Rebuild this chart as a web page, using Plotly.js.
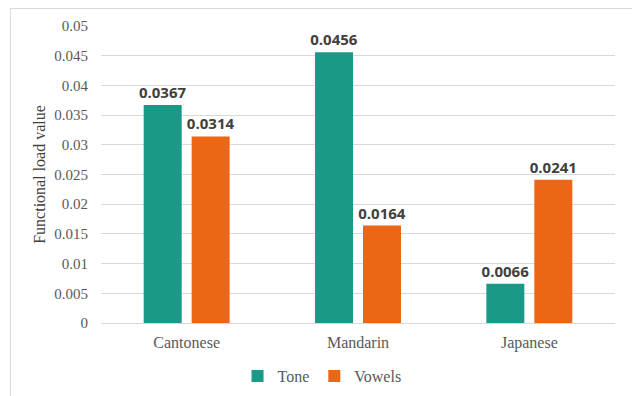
<!DOCTYPE html>
<html><head><meta charset="utf-8">
<script src="https://cdn.plot.ly/plotly-3.0.1.min.js"></script>
<style>
html,body{margin:0;padding:0;background:#fff;}
#chart{position:absolute;left:0;top:0;width:632px;height:396px;}
#frame{position:absolute;left:10px;top:8px;width:640px;height:400px;border-left:1px solid #d9d9d9;border-top:1px solid #d9d9d9;pointer-events:none;}
</style></head>
<body>
<div id="chart"></div>
<div id="frame"></div>
<script>
const categories = ["Cantonese", "Mandarin", "Japanese"];
const toneValues = [0.0367, 0.0456, 0.0066];
const vowelValues = [0.0314, 0.0164, 0.0241];
const yTickVals = [0, 0.005, 0.01, 0.015, 0.02, 0.025, 0.03, 0.035, 0.04, 0.045, 0.05];
const yTickText = ["0", "0.005", "0.01", "0.015", "0.02", "0.025", "0.03", "0.035", "0.04", "0.045", "0.05"];

const labelFont = {family: "Open Sans", size: 15, color: "#404040", weight: "bold"};
function mk(name, vals, color) {
  return {
    type: "bar", name: name, x: categories, y: vals,
    marker: {color: color},
    text: vals.map(v => v.toFixed(4)), textposition: "outside", constraintext: "none",
    textfont: labelFont, cliponaxis: false
  };
}
const data = [mk("Tone", toneValues, "#1a9988"), mk("Vowels", vowelValues, "#eb6715")];
const serif = "Liberation Serif";
const layout = {
  width: 632, height: 396,
  margin: {l: 101, r: 17, t: 26, b: 73, autoexpand: false},
  paper_bgcolor: "#fff", plot_bgcolor: "#fff",
  barmode: "group", bargap: 0.44, bargroupgap: 0.208,
  font: {family: serif, color: "#595959", size: 15},
  xaxis: {showgrid: false, showline: false, zeroline: false, ticks: "", ticklabelstandoff: 8,
          tickfont: {family: serif, size: 16, color: "#595959"}},
  yaxis: {range: [0, 0.05], tickvals: yTickVals, ticktext: yTickText,
          showgrid: true, gridcolor: "#d9d9d9", gridwidth: 1,
          zeroline: true, zerolinecolor: "#d9d9d9", zerolinewidth: 1,
          showline: false, ticks: "", ticklabelstandoff: 12,
          tickfont: {family: serif, size: 15, color: "#595959"},
          title: {text: "Functional load value", font: {family: serif, size: 16, color: "#404040"}, standoff: 4}},
  showlegend: true,
  legend: {orientation: "h", x: 0.43, xanchor: "center", yref: "container", y: 0.05, yanchor: "middle",
           font: {family: serif, size: 16, color: "#595959"}, itemwidth: 30, traceorder: "normal"}
};
Plotly.newPlot("chart", data, layout, {displayModeBar: false, staticPlot: true});
</script>
</body></html>
